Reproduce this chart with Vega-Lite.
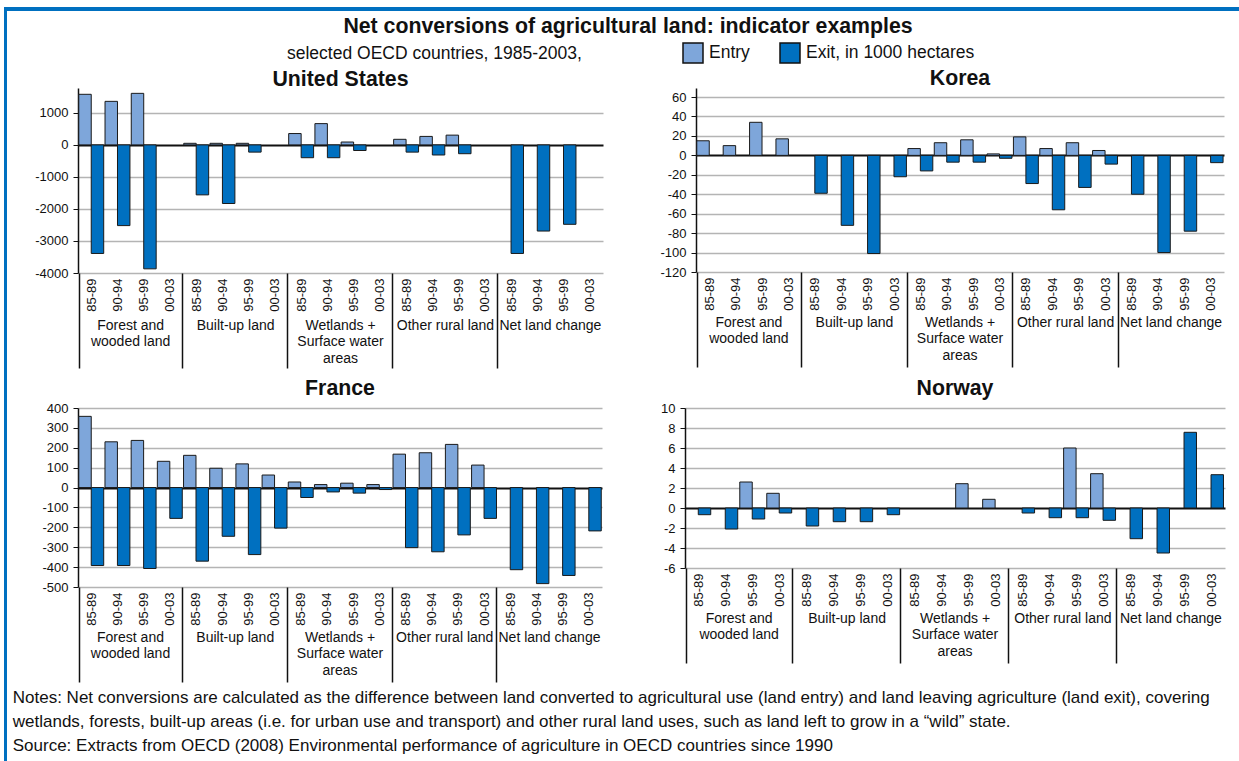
{
  "$schema": "https://vega.github.io/schema/vega-lite/v6.json",
  "padding": {"left": 4, "top": 7, "right": 0, "bottom": 0},
  "background": "white",
  "datasets": {
    "d": [
      {"c":"US","k":"Forest|85-89","s":"Entry","v":1580},{"c":"US","k":"Forest|85-89","s":"Exit","v":-3390},
      {"c":"US","k":"Forest|90-94","s":"Entry","v":1360},{"c":"US","k":"Forest|90-94","s":"Exit","v":-2520},
      {"c":"US","k":"Forest|95-99","s":"Entry","v":1610},{"c":"US","k":"Forest|95-99","s":"Exit","v":-3870},
      {"c":"US","k":"Built|85-89","s":"Entry","v":50},{"c":"US","k":"Built|85-89","s":"Exit","v":-1560},
      {"c":"US","k":"Built|90-94","s":"Entry","v":50},{"c":"US","k":"Built|90-94","s":"Exit","v":-1830},
      {"c":"US","k":"Built|95-99","s":"Entry","v":50},{"c":"US","k":"Built|95-99","s":"Exit","v":-225},
      {"c":"US","k":"Wetlands|85-89","s":"Entry","v":355},{"c":"US","k":"Wetlands|85-89","s":"Exit","v":-400},
      {"c":"US","k":"Wetlands|90-94","s":"Entry","v":665},{"c":"US","k":"Wetlands|90-94","s":"Exit","v":-400},
      {"c":"US","k":"Wetlands|95-99","s":"Entry","v":90},{"c":"US","k":"Wetlands|95-99","s":"Exit","v":-175},
      {"c":"US","k":"Other|85-89","s":"Entry","v":175},{"c":"US","k":"Other|85-89","s":"Exit","v":-225},
      {"c":"US","k":"Other|90-94","s":"Entry","v":265},{"c":"US","k":"Other|90-94","s":"Exit","v":-315},
      {"c":"US","k":"Other|95-99","s":"Entry","v":305},{"c":"US","k":"Other|95-99","s":"Exit","v":-275},
      {"c":"US","k":"Net|85-89","s":"Exit","v":-3390},
      {"c":"US","k":"Net|90-94","s":"Exit","v":-2690},
      {"c":"US","k":"Net|95-99","s":"Exit","v":-2480},

      {"c":"KR","k":"Forest|85-89","s":"Entry","v":15},{"c":"KR","k":"Forest|90-94","s":"Entry","v":10},
      {"c":"KR","k":"Forest|95-99","s":"Entry","v":34},{"c":"KR","k":"Forest|00-03","s":"Entry","v":17},
      {"c":"KR","k":"Built|85-89","s":"Exit","v":-39},{"c":"KR","k":"Built|90-94","s":"Exit","v":-72},
      {"c":"KR","k":"Built|95-99","s":"Exit","v":-101},{"c":"KR","k":"Built|00-03","s":"Exit","v":-22},
      {"c":"KR","k":"Wetlands|85-89","s":"Entry","v":7},{"c":"KR","k":"Wetlands|85-89","s":"Exit","v":-16},
      {"c":"KR","k":"Wetlands|90-94","s":"Entry","v":13},{"c":"KR","k":"Wetlands|90-94","s":"Exit","v":-7},
      {"c":"KR","k":"Wetlands|95-99","s":"Entry","v":16},{"c":"KR","k":"Wetlands|95-99","s":"Exit","v":-7},
      {"c":"KR","k":"Wetlands|00-03","s":"Entry","v":1.5},{"c":"KR","k":"Wetlands|00-03","s":"Exit","v":-3},
      {"c":"KR","k":"Other|85-89","s":"Entry","v":19},{"c":"KR","k":"Other|85-89","s":"Exit","v":-29},
      {"c":"KR","k":"Other|90-94","s":"Entry","v":7},{"c":"KR","k":"Other|90-94","s":"Exit","v":-56},
      {"c":"KR","k":"Other|95-99","s":"Entry","v":13},{"c":"KR","k":"Other|95-99","s":"Exit","v":-33},
      {"c":"KR","k":"Other|00-03","s":"Entry","v":5},{"c":"KR","k":"Other|00-03","s":"Exit","v":-9},
      {"c":"KR","k":"Net|85-89","s":"Exit","v":-40},{"c":"KR","k":"Net|90-94","s":"Exit","v":-100},
      {"c":"KR","k":"Net|95-99","s":"Exit","v":-78},{"c":"KR","k":"Net|00-03","s":"Exit","v":-7.5},

      {"c":"FR","k":"Forest|85-89","s":"Entry","v":358},{"c":"FR","k":"Forest|85-89","s":"Exit","v":-392},
      {"c":"FR","k":"Forest|90-94","s":"Entry","v":230},{"c":"FR","k":"Forest|90-94","s":"Exit","v":-392},
      {"c":"FR","k":"Forest|95-99","s":"Entry","v":237},{"c":"FR","k":"Forest|95-99","s":"Exit","v":-407},
      {"c":"FR","k":"Forest|00-03","s":"Entry","v":132},{"c":"FR","k":"Forest|00-03","s":"Exit","v":-155},
      {"c":"FR","k":"Built|85-89","s":"Entry","v":162},{"c":"FR","k":"Built|85-89","s":"Exit","v":-370},
      {"c":"FR","k":"Built|90-94","s":"Entry","v":97},{"c":"FR","k":"Built|90-94","s":"Exit","v":-245},
      {"c":"FR","k":"Built|95-99","s":"Entry","v":119},{"c":"FR","k":"Built|95-99","s":"Exit","v":-337},
      {"c":"FR","k":"Built|00-03","s":"Entry","v":63},{"c":"FR","k":"Built|00-03","s":"Exit","v":-204},
      {"c":"FR","k":"Wetlands|85-89","s":"Entry","v":28},{"c":"FR","k":"Wetlands|85-89","s":"Exit","v":-50},
      {"c":"FR","k":"Wetlands|90-94","s":"Entry","v":15},{"c":"FR","k":"Wetlands|90-94","s":"Exit","v":-22},
      {"c":"FR","k":"Wetlands|95-99","s":"Entry","v":22},{"c":"FR","k":"Wetlands|95-99","s":"Exit","v":-28},
      {"c":"FR","k":"Wetlands|00-03","s":"Entry","v":15},{"c":"FR","k":"Wetlands|00-03","s":"Exit","v":-10},
      {"c":"FR","k":"Other|85-89","s":"Entry","v":168},{"c":"FR","k":"Other|85-89","s":"Exit","v":-302},
      {"c":"FR","k":"Other|90-94","s":"Entry","v":175},{"c":"FR","k":"Other|90-94","s":"Exit","v":-323},
      {"c":"FR","k":"Other|95-99","s":"Entry","v":217},{"c":"FR","k":"Other|95-99","s":"Exit","v":-238},
      {"c":"FR","k":"Other|00-03","s":"Entry","v":113},{"c":"FR","k":"Other|00-03","s":"Exit","v":-155},
      {"c":"FR","k":"Net|85-89","s":"Exit","v":-413},{"c":"FR","k":"Net|90-94","s":"Exit","v":-483},
      {"c":"FR","k":"Net|95-99","s":"Exit","v":-442},{"c":"FR","k":"Net|00-03","s":"Exit","v":-218},

      {"c":"NO","k":"Forest|85-89","s":"Exit","v":-0.67},{"c":"NO","k":"Forest|90-94","s":"Exit","v":-2.1},
      {"c":"NO","k":"Forest|95-99","s":"Entry","v":2.6},{"c":"NO","k":"Forest|95-99","s":"Exit","v":-1.1},
      {"c":"NO","k":"Forest|00-03","s":"Entry","v":1.47},{"c":"NO","k":"Forest|00-03","s":"Exit","v":-0.5},
      {"c":"NO","k":"Built|85-89","s":"Exit","v":-1.8},{"c":"NO","k":"Built|90-94","s":"Exit","v":-1.37},
      {"c":"NO","k":"Built|95-99","s":"Exit","v":-1.37},{"c":"NO","k":"Built|00-03","s":"Exit","v":-0.67},
      {"c":"NO","k":"Wetlands|95-99","s":"Entry","v":2.43},{"c":"NO","k":"Wetlands|00-03","s":"Entry","v":0.87},
      {"c":"NO","k":"Other|85-89","s":"Exit","v":-0.5},{"c":"NO","k":"Other|90-94","s":"Exit","v":-0.97},
      {"c":"NO","k":"Other|95-99","s":"Entry","v":6.0},{"c":"NO","k":"Other|95-99","s":"Exit","v":-0.97},
      {"c":"NO","k":"Other|00-03","s":"Entry","v":3.43},{"c":"NO","k":"Other|00-03","s":"Exit","v":-1.23},
      {"c":"NO","k":"Net|85-89","s":"Exit","v":-3.07},{"c":"NO","k":"Net|90-94","s":"Exit","v":-4.5},
      {"c":"NO","k":"Net|95-99","s":"Exit","v":7.57},{"c":"NO","k":"Net|00-03","s":"Exit","v":3.33}
    ]
  },
  "spacing": 0,
  "vconcat": [
    {"width": 1235, "height": 4, "view": {"fill": "#0070c0", "stroke": null}, "mark": {"type": "rect", "fillOpacity": 0}, "encoding": {}},
    {
      "spacing": 5,
      "hconcat": [
        {"width": 3, "height": 750, "view": {"fill": "#0070c0", "stroke": null}, "mark": {"type": "rect", "fillOpacity": 0}, "encoding": {}},
        {
          "spacing": 29,
          "vconcat": [
            {
              "width": 1100, "height": 1,
              "title": {"text": "Net conversions of agricultural land: indicator examples", "orient": "bottom", "anchor": "middle", "offset": 4, "fontSize": 21.3},
              "mark": {"type": "rect", "fillOpacity": 0}, "encoding": {}
            },
            {
              "title": {
                "text": [
                  "Notes: Net conversions are calculated as the difference between land converted to agricultural use (land entry) and land leaving agriculture (land exit), covering",
                  "wetlands, forests, built-up areas (i.e. for urban use and transport) and other rural land uses, such as land left to grow in a \u201cwild\u201d state.",
                  "Source: Extracts from OECD (2008) Environmental performance of agriculture in OECD countries since 1990"
                ],
                "orient": "bottom", "anchor": "start", "dx": -22, "offset": 7,
                "fontSize": 17, "fontWeight": "normal", "lineHeight": 24, "baseline": "top"
              },
              "spacing": 8,
              "vconcat": [
                {
                  "spacing": 56,
                  "hconcat": [
                    {
                      "title": {"text": "United States", "offset": -2},
                      "width": 525, "height": 185,
                      "data": {"name": "d"},
                      "transform": [{"filter": "datum.c === 'US'"}],
                      "layer": [
                        {
                          "mark": {"type": "bar", "stroke": "#1a1a1a", "strokeWidth": 1},
                          "encoding": {
                            "x": {"field": "k", "type": "nominal",
                              "scale": {"domain": ["Forest|85-89","Forest|90-94","Forest|95-99","Forest|00-03","Built|85-89","Built|90-94","Built|95-99","Built|00-03","Wetlands|85-89","Wetlands|90-94","Wetlands|95-99","Wetlands|00-03","Other|85-89","Other|90-94","Other|95-99","Other|00-03","Net|85-89","Net|90-94","Net|95-99","Net|00-03"], "paddingInner": 0.05, "paddingOuter": 0.03},
                              "axis": {"title": null, "labelExpr": "datum.value ? split(datum.value, '|')[1] : ''", "labelAngle": -90, "labelPadding": -90, "tickBand": "extent", "tickSize": 95, "tickWidth": 1.5, "tickColor": "#111",
                                "tickOpacity": {"condition": {"test": "datum.extra || (indexof(datum.value, '00-03') >= 0 && indexof(datum.value, 'Net') < 0)", "value": 1}, "value": 0},
                                "domain": false, "grid": false, "labelOverlap": false, "labelBound": false}},
                            "xOffset": {"field": "s", "type": "nominal", "scale": {"domain": ["Entry","Exit"], "paddingInner": 0, "paddingOuter": 0}},
                            "y": {"field": "v", "type": "quantitative", "scale": {"domain": [-4000, 1777], "nice": false, "zero": false},
                              "axis": {"title": null, "values": [-4000,-3000,-2000,-1000,0,1000], "labelExpr": "'' + datum.value"}},
                            "color": {"field": "s", "type": "nominal", "scale": {"domain": ["Entry","Exit"], "range": ["#7ea6da","#0070c0"]},
                              "legend": {"orient": "none", "legendX": 283, "legendY": 35, "direction": "horizontal", "title": "selected OECD countries, 1985-2003,", "titleOrient": "left", "titlePadding": 100,
                                "labelExpr": "datum.label == 'Exit' ? 'Exit, in 1000 hectares' : datum.label"}}
                          }
                        },
                        {
                          "mark": {"type": "text", "text": " "},
                          "encoding": {
                            "x": {"field": "k", "type": "nominal",
                              "scale": {"domain": ["Forest|85-89","Forest|90-94","Forest|95-99","Forest|00-03","Built|85-89","Built|90-94","Built|95-99","Built|00-03","Wetlands|85-89","Wetlands|90-94","Wetlands|95-99","Wetlands|00-03","Other|85-89","Other|90-94","Other|95-99","Other|00-03","Net|85-89","Net|90-94","Net|95-99","Net|00-03"], "paddingInner": 0.05, "paddingOuter": 0.03},
                              "axis": {"orient": "bottom", "title": null, "values": ["Forest|95-99","Built|95-99","Wetlands|95-99","Other|95-99","Net|95-99"], "labelOffset": -13.1, "ticks": false, "domain": false, "grid": false, "labelAngle": 0, "labelAlign": "center", "labelBaseline": "top", "labelPadding": 45, "labelFontSize": 14, "labelLineHeight": 16.8, "labelOverlap": false, "labelBound": false,
                                "labelExpr": "datum.value == 'Forest|95-99' ? ['Forest and', 'wooded land'] : datum.value == 'Built|95-99' ? 'Built-up land' : datum.value == 'Wetlands|95-99' ? ['Wetlands +', 'Surface water', 'areas'] : datum.value == 'Other|95-99' ? 'Other rural land' : 'Net land change'"}}
                          }
                        }
                      ],
                      "resolve": {"axis": {"x": "independent"}}
                    },
                    {
                      "title": {"text": "Korea", "offset": -1},
                      "width": 528, "height": 184,
                      "data": {"name": "d"},
                      "transform": [{"filter": "datum.c === 'KR'"}],
                      "layer": [
                        {
                          "mark": {"type": "bar", "stroke": "#1a1a1a", "strokeWidth": 1},
                          "encoding": {
                            "x": {"field": "k", "type": "nominal",
                              "scale": {"domain": ["Forest|85-89","Forest|90-94","Forest|95-99","Forest|00-03","Built|85-89","Built|90-94","Built|95-99","Built|00-03","Wetlands|85-89","Wetlands|90-94","Wetlands|95-99","Wetlands|00-03","Other|85-89","Other|90-94","Other|95-99","Other|00-03","Net|85-89","Net|90-94","Net|95-99","Net|00-03"], "paddingInner": 0.05, "paddingOuter": 0.03},
                              "axis": {"title": null, "labelExpr": "datum.value ? split(datum.value, '|')[1] : ''", "labelAngle": -90, "labelPadding": -90, "tickBand": "extent", "tickSize": 95, "tickWidth": 1.5, "tickColor": "#111",
                                "tickOpacity": {"condition": {"test": "datum.extra || (indexof(datum.value, '00-03') >= 0 && indexof(datum.value, 'Net') < 0)", "value": 1}, "value": 0},
                                "domain": false, "grid": false, "labelOverlap": false, "labelBound": false}},
                            "xOffset": {"field": "s", "type": "nominal", "scale": {"domain": ["Entry","Exit"], "paddingInner": 0, "paddingOuter": 0}},
                            "y": {"field": "v", "type": "quantitative", "scale": {"domain": [-120, 69.3], "nice": false, "zero": false},
                              "axis": {"title": null, "values": [-120,-100,-80,-60,-40,-20,0,20,40,60], "labelExpr": "'' + datum.value"}},
                            "color": {"field": "s", "type": "nominal", "scale": {"domain": ["Entry","Exit"], "range": ["#7ea6da","#0070c0"]}, "legend": null}
                          }
                        },
                        {
                          "mark": {"type": "text", "text": " "},
                          "encoding": {
                            "x": {"field": "k", "type": "nominal",
                              "scale": {"domain": ["Forest|85-89","Forest|90-94","Forest|95-99","Forest|00-03","Built|85-89","Built|90-94","Built|95-99","Built|00-03","Wetlands|85-89","Wetlands|90-94","Wetlands|95-99","Wetlands|00-03","Other|85-89","Other|90-94","Other|95-99","Other|00-03","Net|85-89","Net|90-94","Net|95-99","Net|00-03"], "paddingInner": 0.05, "paddingOuter": 0.03},
                              "axis": {"orient": "bottom", "title": null, "values": ["Forest|95-99","Built|95-99","Wetlands|95-99","Other|95-99","Net|95-99"], "labelOffset": -13.2, "ticks": false, "domain": false, "grid": false, "labelAngle": 0, "labelAlign": "center", "labelBaseline": "top", "labelPadding": 43, "labelFontSize": 14, "labelLineHeight": 16.5, "labelOverlap": false, "labelBound": false,
                                "labelExpr": "datum.value == 'Forest|95-99' ? ['Forest and', 'wooded land'] : datum.value == 'Built|95-99' ? 'Built-up land' : datum.value == 'Wetlands|95-99' ? ['Wetlands +', 'Surface water', 'areas'] : datum.value == 'Other|95-99' ? 'Other rural land' : 'Net land change'"}}
                          }
                        }
                      ],
                      "resolve": {"axis": {"x": "independent"}}
                    }
                  ]
                },
                {
                  "spacing": 58,
                  "hconcat": [
                    {
                      "title": {"text": "France", "offset": 3},
                      "width": 524, "height": 179,
                      "data": {"name": "d"},
                      "transform": [{"filter": "datum.c === 'FR'"}],
                      "layer": [
                        {
                          "mark": {"type": "bar", "stroke": "#1a1a1a", "strokeWidth": 1},
                          "encoding": {
                            "x": {"field": "k", "type": "nominal",
                              "scale": {"domain": ["Forest|85-89","Forest|90-94","Forest|95-99","Forest|00-03","Built|85-89","Built|90-94","Built|95-99","Built|00-03","Wetlands|85-89","Wetlands|90-94","Wetlands|95-99","Wetlands|00-03","Other|85-89","Other|90-94","Other|95-99","Other|00-03","Net|85-89","Net|90-94","Net|95-99","Net|00-03"], "paddingInner": 0.05, "paddingOuter": 0.03},
                              "axis": {"title": null, "labelExpr": "datum.value ? split(datum.value, '|')[1] : ''", "labelAngle": -90, "labelPadding": -90, "tickBand": "extent", "tickSize": 95, "tickWidth": 1.5, "tickColor": "#111",
                                "tickOpacity": {"condition": {"test": "datum.extra || (indexof(datum.value, '00-03') >= 0 && indexof(datum.value, 'Net') < 0)", "value": 1}, "value": 0},
                                "domain": false, "grid": false, "labelOverlap": false, "labelBound": false}},
                            "xOffset": {"field": "s", "type": "nominal", "scale": {"domain": ["Entry","Exit"], "paddingInner": 0, "paddingOuter": 0}},
                            "y": {"field": "v", "type": "quantitative", "scale": {"domain": [-500, 400], "nice": false, "zero": false},
                              "axis": {"title": null, "values": [-500,-400,-300,-200,-100,0,100,200,300,400], "labelExpr": "'' + datum.value"}},
                            "color": {"field": "s", "type": "nominal", "scale": {"domain": ["Entry","Exit"], "range": ["#7ea6da","#0070c0"]}, "legend": null}
                          }
                        },
                        {
                          "mark": {"type": "text", "text": " "},
                          "encoding": {
                            "x": {"field": "k", "type": "nominal",
                              "scale": {"domain": ["Forest|85-89","Forest|90-94","Forest|95-99","Forest|00-03","Built|85-89","Built|90-94","Built|95-99","Built|00-03","Wetlands|85-89","Wetlands|90-94","Wetlands|95-99","Wetlands|00-03","Other|85-89","Other|90-94","Other|95-99","Other|00-03","Net|85-89","Net|90-94","Net|95-99","Net|00-03"], "paddingInner": 0.05, "paddingOuter": 0.03},
                              "axis": {"orient": "bottom", "title": null, "values": ["Forest|95-99","Built|95-99","Wetlands|95-99","Other|95-99","Net|95-99"], "labelOffset": -13.1, "ticks": false, "domain": false, "grid": false, "labelAngle": 0, "labelAlign": "center", "labelBaseline": "top", "labelPadding": 43, "labelFontSize": 14, "labelLineHeight": 16.5, "labelOverlap": false, "labelBound": false,
                                "labelExpr": "datum.value == 'Forest|95-99' ? ['Forest and', 'wooded land'] : datum.value == 'Built|95-99' ? 'Built-up land' : datum.value == 'Wetlands|95-99' ? ['Wetlands +', 'Surface water', 'areas'] : datum.value == 'Other|95-99' ? 'Other rural land' : 'Net land change'"}}
                          }
                        }
                      ],
                      "resolve": {"axis": {"x": "independent"}}
                    },
                    {
                      "title": {"text": "Norway", "offset": 3},
                      "width": 540, "height": 160,
                      "data": {"name": "d"},
                      "transform": [{"filter": "datum.c === 'NO'"}],
                      "layer": [
                        {
                          "mark": {"type": "bar", "stroke": "#1a1a1a", "strokeWidth": 1},
                          "encoding": {
                            "x": {"field": "k", "type": "nominal",
                              "scale": {"domain": ["Forest|85-89","Forest|90-94","Forest|95-99","Forest|00-03","Built|85-89","Built|90-94","Built|95-99","Built|00-03","Wetlands|85-89","Wetlands|90-94","Wetlands|95-99","Wetlands|00-03","Other|85-89","Other|90-94","Other|95-99","Other|00-03","Net|85-89","Net|90-94","Net|95-99","Net|00-03"], "paddingInner": 0.05, "paddingOuter": 0.03},
                              "axis": {"title": null, "labelExpr": "datum.value ? split(datum.value, '|')[1] : ''", "labelAngle": -90, "labelPadding": -90, "tickBand": "extent", "tickSize": 95, "tickWidth": 1.5, "tickColor": "#111",
                                "tickOpacity": {"condition": {"test": "datum.extra || (indexof(datum.value, '00-03') >= 0 && indexof(datum.value, 'Net') < 0)", "value": 1}, "value": 0},
                                "domain": false, "grid": false, "labelOverlap": false, "labelBound": false}},
                            "xOffset": {"field": "s", "type": "nominal", "scale": {"domain": ["Entry","Exit"], "paddingInner": 0, "paddingOuter": 0}},
                            "y": {"field": "v", "type": "quantitative", "scale": {"domain": [-6, 10], "nice": false, "zero": false},
                              "axis": {"title": null, "values": [-6,-4,-2,0,2,4,6,8,10], "labelExpr": "'' + datum.value"}},
                            "color": {"field": "s", "type": "nominal", "scale": {"domain": ["Entry","Exit"], "range": ["#7ea6da","#0070c0"]}, "legend": null}
                          }
                        },
                        {
                          "mark": {"type": "text", "text": " "},
                          "encoding": {
                            "x": {"field": "k", "type": "nominal",
                              "scale": {"domain": ["Forest|85-89","Forest|90-94","Forest|95-99","Forest|00-03","Built|85-89","Built|90-94","Built|95-99","Built|00-03","Wetlands|85-89","Wetlands|90-94","Wetlands|95-99","Wetlands|00-03","Other|85-89","Other|90-94","Other|95-99","Other|00-03","Net|85-89","Net|90-94","Net|95-99","Net|00-03"], "paddingInner": 0.05, "paddingOuter": 0.03},
                              "axis": {"orient": "bottom", "title": null, "values": ["Forest|95-99","Built|95-99","Wetlands|95-99","Other|95-99","Net|95-99"], "labelOffset": -13.5, "ticks": false, "domain": false, "grid": false, "labelAngle": 0, "labelAlign": "center", "labelBaseline": "top", "labelPadding": 43, "labelFontSize": 14, "labelLineHeight": 16.5, "labelOverlap": false, "labelBound": false,
                                "labelExpr": "datum.value == 'Forest|95-99' ? ['Forest and', 'wooded land'] : datum.value == 'Built|95-99' ? 'Built-up land' : datum.value == 'Wetlands|95-99' ? ['Wetlands +', 'Surface water', 'areas'] : datum.value == 'Other|95-99' ? 'Other rural land' : 'Net land change'"}}
                          }
                        }
                      ],
                      "resolve": {"axis": {"x": "independent"}}
                    }
                  ]
                }
              ]
            }
          ]
        }
      ]
    }
  ],
  "config": {
    "view": {"stroke": null},
    "font": "Liberation Sans",
    "title": {"font": "Liberation Sans", "fontSize": 21.3, "fontWeight": "bold", "color": "#111"},
    "axis": {"labelFont": "Liberation Sans", "labelFontSize": 13, "labelColor": "#111"},
    "axisY": {"grid": true, "gridColor": {"condition": {"test": "datum.value === 0", "value": "#111"}, "value": "#b4b4b4"}, "gridWidth": {"condition": {"test": "datum.value === 0", "value": 2}, "value": 1.5}, "domainColor": "#111", "domainWidth": 1.5, "tickColor": "#111", "tickSize": 5, "labelPadding": 5},
    "legend": {"titleFont": "Liberation Sans", "titleFontSize": 17.5, "titleFontWeight": "normal", "titleColor": "#111", "titleLimit": 400, "labelFont": "Liberation Sans", "labelFontSize": 17.5, "labelColor": "#111", "labelLimit": 300, "symbolType": "square", "symbolSize": 400, "symbolStrokeColor": "#111", "symbolStrokeWidth": 1.5, "columnPadding": 27, "labelOffset": 5}
  }
}
